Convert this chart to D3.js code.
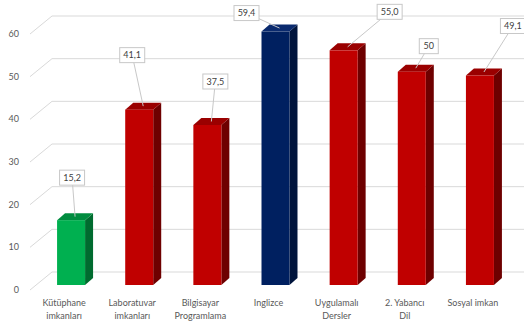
<!DOCTYPE html>
<html>
<head>
<meta charset="utf-8">
<script src="https://cdn.jsdelivr.net/npm/d3@7"></script>
<style>
  html, body { margin: 0; padding: 0; background: #fff; }
  svg { display: block; font-family: Lato, "Open Sans", sans-serif; }
</style>
</head>
<body>
<svg id="chart" width="524" height="329"></svg>
<script>
// Survey results per facility category
const categories = [
  ["Kütüphane", "imkanları"],
  ["Laboratuvar", "imkanları"],
  ["Bilgisayar", "Programlama"],
  ["Inglizce"],
  ["Uygulamalı", "Dersler"],
  ["2. Yabancı", "Dil"],
  ["Sosyal imkan"]
];
const values = [15.2, 41.1, 37.5, 59.4, 55.0, 50, 49.1];
const valueLabels = ["15,2", "41,1", "37,5", "59,4", "55,0", "50", "49,1"];
const yTicks = [0, 10, 20, 30, 40, 50, 60];
const barColorKeys = ["green", "red", "red", "navy", "red", "red", "red"];

// Callout box placement relative to the top of each bar
const calloutOffsets = [[-3, -39], [-11, -51], [4, -40], [-33, -15], [42, -35], [13, -22], [29, -46]];

const palettes = {
  green: { front: "#00b050", side: "#006b2f", top: "#008c3f" },
  red:   { front: "#c00000", side: "#6e0000", top: "#9a0000" },
  navy:  { front: "#002060", side: "#00143c", top: "#0a2a6e" }
};

const svg = d3.select("#chart");

// Front plane scales
const x = d3.scaleBand().domain(d3.range(categories.length)).range([30, 507]);
const y = d3.scaleLinear().domain([0, 60]).range([290, 34]);

// 3D offsets: back wall, bar front plane, bar depth
const wall = { dx: 22, dy: -18 };
const barShift = { dx: 7, dy: -5 };
const barDepth = { dx: 8, dy: -7 };
const barWidth = 28;

// Gridlines: diagonal on the floor side, then along the back wall
const grid = svg.append("g").attr("stroke", "#d9d9d9").attr("stroke-width", 1).attr("fill", "none");
yTicks.forEach(t => {
  const yf = y(t);
  grid.append("path")
    .attr("d", `M30,${yf}L${30 + wall.dx},${yf + wall.dy}L524,${yf + wall.dy}`);
});

// Y tick labels
svg.append("g").selectAll("text").data(yTicks).join("text")
  .attr("x", 19).attr("y", d => y(d) + 3)
  .attr("text-anchor", "end")
  .attr("font-size", 9).attr("fill", "#595959")
  .text(d => d);

// Bars
const bars = svg.append("g");
values.forEach((v, i) => {
  const pal = palettes[barColorKeys[i]];
  const cx = x(i) + x.bandwidth() / 2 + barShift.dx;
  const x0 = cx - barWidth / 2, x1 = cx + barWidth / 2;
  const yb = y(0) + barShift.dy, yt = y(v) + barShift.dy;
  const g = bars.append("g");
  // side face
  g.append("path")
    .attr("d", `M${x1},${yb}L${x1 + barDepth.dx},${yb + barDepth.dy}L${x1 + barDepth.dx},${yt + barDepth.dy}L${x1},${yt}Z`)
    .attr("fill", pal.side);
  // top face
  g.append("path")
    .attr("d", `M${x0},${yt}L${x1},${yt}L${x1 + barDepth.dx},${yt + barDepth.dy}L${x0 + barDepth.dx},${yt + barDepth.dy}Z`)
    .attr("fill", pal.top);
  // front face
  g.append("rect")
    .attr("x", x0).attr("y", yt)
    .attr("width", barWidth).attr("height", yb - yt)
    .attr("fill", pal.front);
});

// Data callouts
const callouts = svg.append("g");
values.forEach((v, i) => {
  const cx = x(i) + x.bandwidth() / 2 + barShift.dx;
  const tx = cx + barDepth.dx / 2;
  const ty = y(v) + barShift.dy + barDepth.dy / 2;
  const bx = tx + calloutOffsets[i][0];
  const by = ty + calloutOffsets[i][1];
  callouts.append("line")
    .attr("x1", bx).attr("y1", by).attr("x2", tx).attr("y2", ty)
    .attr("stroke", "#c8c8c8").attr("stroke-width", 1);
  const label = valueLabels[i];
  const w = label.length > 2 ? 25 : 19;
  callouts.append("rect")
    .attr("x", bx - w / 2).attr("y", by - 7.5)
    .attr("width", w).attr("height", 15)
    .attr("fill", "#fff").attr("stroke", "#c8c8c8").attr("stroke-width", 1);
  callouts.append("text")
    .attr("x", bx).attr("y", by + 3)
    .attr("text-anchor", "middle")
    .attr("font-size", 9).attr("fill", "#404040")
    .text(label);
});

// Category labels
const xl = svg.append("g");
categories.forEach((lines, i) => {
  const t = xl.append("text")
    .attr("x", x(i) + x.bandwidth() / 2)
    .attr("y", 306)
    .attr("text-anchor", "middle")
    .attr("font-size", 9).attr("fill", "#595959");
  lines.forEach((ln, j) => {
    t.append("tspan").attr("x", x(i) + x.bandwidth() / 2).attr("dy", j === 0 ? 0 : 13).text(ln);
  });
});
</script>
</body>
</html>
